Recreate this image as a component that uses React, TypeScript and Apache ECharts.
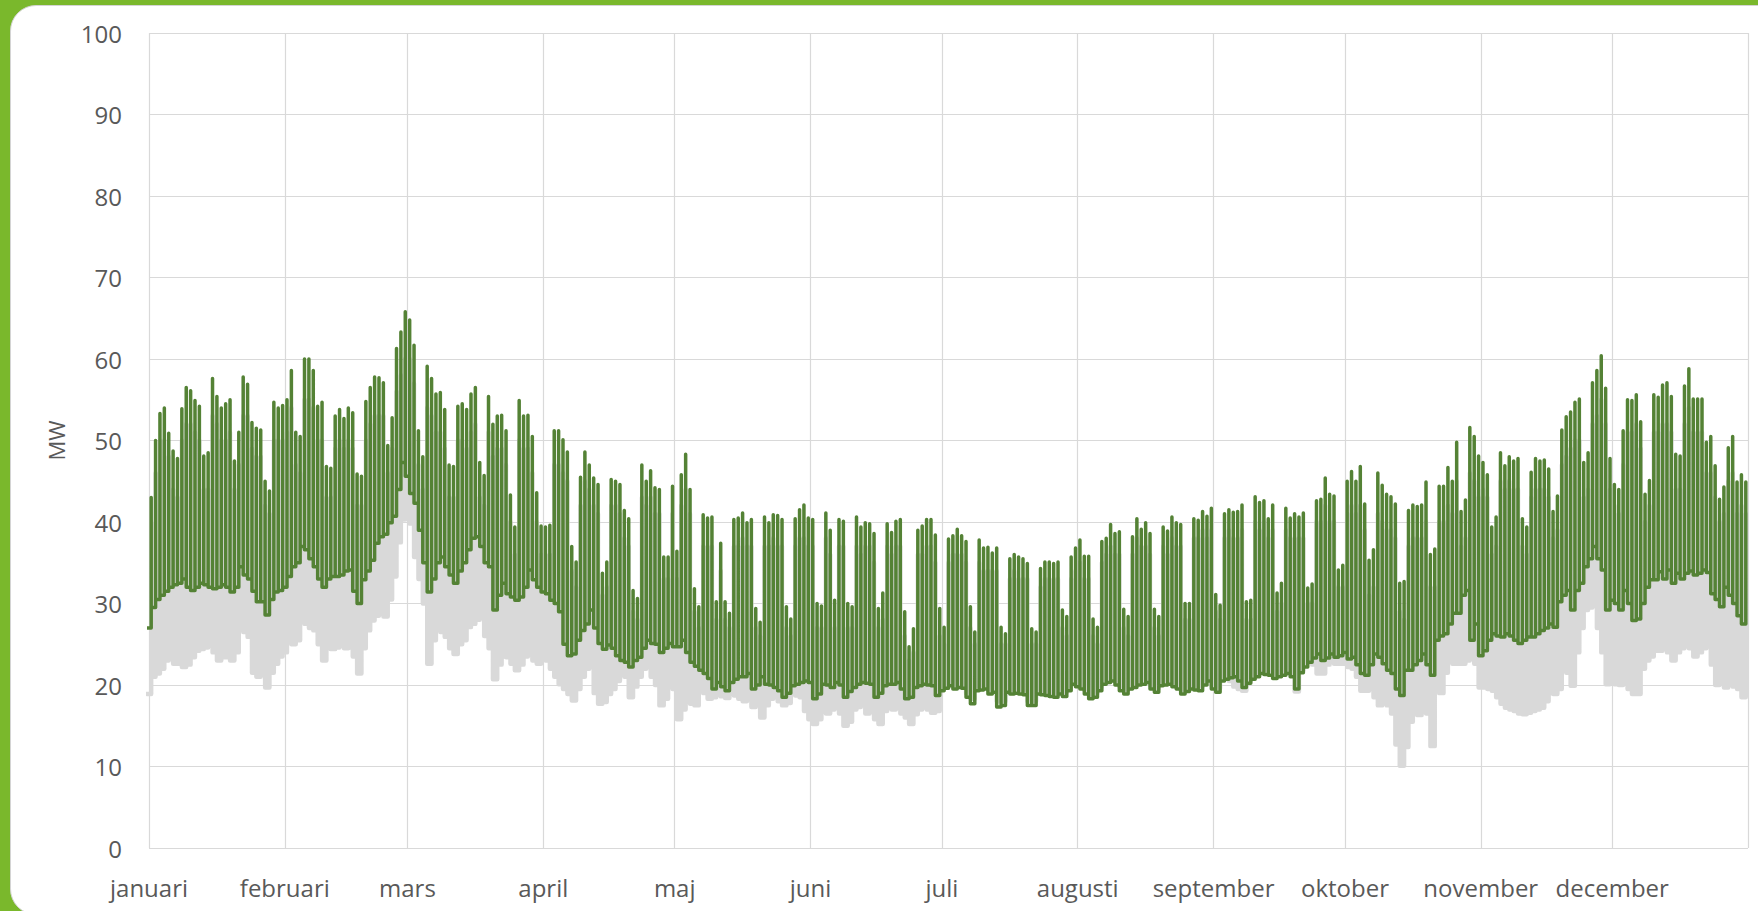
import React, { useEffect, useRef } from "react";
import * as echarts from "echarts";

const MONTHS = ["januari", "februari", "mars", "april", "maj", "juni", "juli", "augusti", "september", "oktober", "november", "december"];
const MONTH_START = [0, 31, 59, 90, 120, 151, 181, 212, 243, 273, 304, 334];
const YEAR_END = 365;
const Y_MIN = 0;
const Y_MAX = 100;
const Y_STEP = 10;

// daily peak of the green series (MW), Jan..Dec
const greenHigh = [
  43, 50, 53.3, 54, 50.9, 48.7, 47.8, 53.9, 56.5, 56.1, 54.9, 54.2, 48.1, 48.5, 57.6, 55.4, 54, 54.5, 55, 47.5, 51, 57.8, 56.9, 52.2, 51.5, 51.3, 45, 43.8, 54.7, 54, 54.3,
  55, 58.6, 51, 50.5, 60, 60, 58.6, 54.2, 54.7, 46.8, 46.6, 53, 53.8, 52.7, 54, 53.4, 45.9, 45.6, 54.8, 56.5, 57.8, 57.7, 57.1, 49.4, 52.8, 61.3, 63.3, 65.8,
  64.8, 61.7, 51.2, 48, 59.1, 57.6, 55.7, 55.9, 53.8, 47, 46.8, 54.2, 54.5, 53.8, 55.7, 56.5, 47.3, 45.7, 55.4, 52, 53, 53.1, 51.2, 43.3, 39.4, 54.9, 53, 53.1, 50.5, 43.6, 39.5,
  39.4, 39.6, 51.2, 51.2, 50.1, 48.6, 37, 35.1, 45.5, 48.6, 47, 45.4, 44.6, 33.7, 35.1, 45.2, 45, 44.6, 41.4, 40.4, 31.6, 30.6, 47, 45, 46.3, 44.2, 44, 35.7, 35.7, 44.4,
  36.4, 45.8, 48.3, 44, 31.8, 29.6, 40.9, 40.5, 40.6, 30.2, 37.4, 30.2, 28.8, 40.3, 40.5, 41.1, 39.9, 40.3, 29.4, 27.7, 40.6, 39.9, 40.9, 40.8, 40.3, 29.6, 28.1, 40.4, 41.5, 42.1, 40.5,
  40.3, 30, 29.7, 41.1, 39, 30.4, 40.3, 40.1, 30, 29.6, 40.6, 39.4, 39.9, 39.8, 38.6, 29.4, 31.3, 39.8, 38.7, 40.1, 40.3, 29, 24.7, 26.9, 39, 39.5, 40.3, 40.3, 38.4, 29.4,
  27.1, 37.9, 38.3, 39.1, 38.3, 37.6, 29.6, 26.5, 37.8, 36.8, 36.9, 36.2, 36.8, 27.1, 26.3, 35.5, 36, 35.7, 35.5, 34.9, 26.9, 26.5, 34.3, 35.1, 35.1, 34.9, 35.1, 29.2, 28.4, 35.7, 36.8,
  37.8, 35.8, 35.8, 28.1, 27.1, 37.6, 38, 39.7, 38.6, 38.8, 29.3, 28.4, 38.2, 40.4, 39.1, 39.9, 38.6, 29.3, 28.4, 39.4, 38.9, 40.6, 39.9, 39.7, 30, 30, 40.4, 40.2, 41.3, 40.7, 41.7,
  31.1, 29.8, 41, 41.5, 41.2, 41.3, 42.1, 30.2, 30.4, 43.1, 42.4, 42.6, 40.4, 42.1, 31.3, 32.5, 41.7, 40.5, 41, 40.6, 41.1, 31.9, 32.4, 42.6, 42.8, 45.4, 43.4, 43.2, 34.1, 34.7,
  45, 46.2, 45, 46.8, 42.2, 35.3, 36.6, 46, 44.5, 43.4, 43.1, 42.2, 32.5, 32.7, 41.4, 42.1, 41.9, 42.1, 44.9, 36, 36.7, 44.4, 44.4, 46.7, 45, 49.8, 41.3, 42.7, 51.6, 50.5, 48.1,
  47.3, 45.8, 39.4, 40.6, 48.5, 46.9, 48, 47.5, 47.8, 40.4, 39.4, 46.1, 47.8, 47.5, 47.6, 46.5, 41.3, 43.2, 51.3, 52.9, 53.5, 54.7, 55.1, 47.3, 48.5, 57.1, 58.6, 60.4, 56.4, 47.8,
  44.6, 44, 51.2, 55, 54.9, 55.6, 52.3, 43.4, 45.1, 55.6, 55.3, 56.8, 57.1, 55.4, 48.3, 48.1, 56.7, 58.8, 55.1, 55.1, 55.1, 49.8, 50.5, 46.9, 42.8, 44.3, 49.1, 50.5, 44.9, 45.8, 44.9,
];

// daily trough of the green series (MW)
const greenLow = [
  27, 29.5, 30.5, 31, 31.5, 32, 32.3, 32.5, 33, 32, 31.6, 32, 32.5, 32.3, 32, 31.8, 32, 32.3, 32, 31.4, 32, 34.5, 33.5, 33, 31.5, 30.2, 30.2, 28.6, 30.5, 31.4, 31.6,
  32, 33.3, 34.5, 35, 37, 36.6, 35.5, 34.5, 33, 32, 33, 33.3, 33.3, 33.5, 34, 34.1, 31.5, 30, 32.9, 34, 35.3, 37.4, 38.2, 38.5, 39.9, 40.7, 44, 47.3,
  45.6, 43.5, 42.3, 39, 35, 31.4, 33, 35, 35.7, 34.5, 33.5, 32.5, 34, 35, 36.6, 38, 38.2, 37, 35, 34.5, 29.2, 31, 32.5, 31.2, 30.8, 30.4, 30.8, 32, 34.1, 32.9, 32,
  31.4, 31.2, 30.4, 30, 29, 25, 23.6, 23.8, 25.5, 26.7, 27.5, 29.2, 27, 25.1, 24.4, 24.9, 24.5, 23.6, 23, 22.8, 22.2, 23, 23.4, 24.5, 25.5, 25.1, 25, 24, 24.5, 25.1,
  24.7, 24.7, 25.5, 24, 22.8, 22.3, 21.8, 21.4, 20.8, 19.5, 20.3, 19.8, 19.3, 20.3, 20.7, 21, 21, 21.4, 19.5, 20, 21, 20.1, 20, 19.7, 19.3, 18.5, 19, 19.9, 20.1, 20.3, 20.5,
  20.3, 18.3, 18.9, 20.1, 20, 19.7, 20.3, 20, 18.5, 19.2, 19.7, 20.1, 20.3, 20.2, 20.1, 18.5, 19, 19.9, 20.1, 20.1, 20.3, 19.5, 18.3, 18.5, 19.7, 19.9, 20.1, 20, 19.9, 18.7,
  19.3, 19.6, 19.9, 19.5, 19.7, 19.6, 18.5, 17.7, 19.3, 19.4, 19.5, 18.9, 19.1, 17.3, 17.5, 19.1, 18.9, 19, 18.9, 18.8, 17.5, 17.5, 18.9, 18.8, 18.7, 18.6, 18.5, 18.9, 18.6, 19.3, 20.1,
  19.8, 19.5, 18.9, 18.3, 18.5, 19.3, 20.1, 20.3, 20.5, 20, 19.3, 18.9, 19.5, 19.7, 20, 20.1, 20.3, 19.5, 19.1, 19.9, 20, 20.1, 19.8, 19.5, 18.9, 19.2, 19.5, 19.4, 19.3, 20, 20.5,
  19.5, 19.1, 20.5, 20.7, 20.9, 21, 20.5, 19.7, 20.2, 20.7, 21, 21.4, 21.3, 21.2, 20.8, 21, 21.2, 21.4, 21, 19.5, 21.5, 22.2, 22.8, 23.3, 23.8, 23, 23.3, 23.8, 23.4, 23.6,
  24, 23.2, 23.4, 22.5, 21.4, 21.2, 22.5, 23.8, 23.4, 22.6, 21.8, 21.4, 19.5, 18.7, 21.8, 21.8, 22.5, 23, 23.8, 22.5, 21.2, 25.5, 26, 26.3, 27.5, 28.8, 28.8, 31, 31.6, 25.5, 27.5,
  23.6, 24.2, 25.5, 26.3, 26, 25.9, 26.3, 26, 25.5, 25.1, 25.5, 25.9, 25.9, 26.3, 26.7, 27, 27.5, 27.1, 30.2, 31, 31.6, 29.2, 31.6, 32.5, 34.5, 35.5, 37, 35.5, 34.1, 29.2,
  30.4, 30, 29.2, 31.6, 30, 27.9, 28.1, 30, 32, 32.9, 32.9, 33.9, 33, 34.1, 32.5, 33.7, 33, 33.7, 34, 33.5, 33.7, 34.1, 33.8, 31.2, 30.5, 29.6, 32, 31, 30, 28.5, 27.5,
];

// daily peak of the grey series (MW)
const greyHigh = [
  40, 46, 50, 50, 48, 44, 43, 50, 52, 52, 51, 50, 44, 44, 53, 52, 50, 50, 51, 44, 47, 53, 53, 49, 48, 48, 42, 41, 50, 50, 50,
  51, 54, 47, 46, 55, 55, 54, 50, 50, 43, 43, 49, 50, 49, 50, 49, 42, 42, 50, 52, 53, 53, 53, 46, 49, 56, 58, 60,
  60, 57, 47, 44, 54, 53, 51, 51, 49, 43, 43, 50, 50, 49, 51, 52, 43, 42, 51, 48, 49, 49, 47, 40, 36, 50, 49, 49, 46, 40, 36,
  36, 36, 47, 47, 46, 45, 34, 32, 42, 45, 44, 42, 41, 31, 32, 42, 42, 41, 38, 37, 29, 28, 43, 42, 43, 41, 41, 33, 33, 41,
  33, 42, 44, 41, 29, 27, 37, 37, 37, 28, 34, 28, 27, 37, 37, 38, 37, 37, 27, 26, 37, 37, 38, 37, 37, 27, 26, 37, 38, 38, 37,
  37, 27, 27, 38, 36, 27, 37, 37, 27, 27, 37, 36, 37, 37, 35, 27, 28, 37, 36, 37, 37, 26, 23, 24, 36, 36, 37, 37, 35, 26,
  25, 35, 36, 36, 36, 35, 27, 25, 35, 34, 34, 34, 34, 25, 25, 33, 34, 33, 33, 33, 25, 25, 32, 33, 33, 33, 33, 27, 26, 33, 34,
  35, 33, 33, 26, 25, 35, 36, 37, 36, 36, 27, 26, 36, 38, 37, 37, 36, 27, 26, 37, 36, 38, 37, 37, 28, 28, 38, 38, 39, 38, 39,
  29, 28, 38, 39, 38, 38, 39, 28, 28, 40, 39, 40, 38, 39, 29, 30, 39, 38, 38, 38, 38, 30, 30, 40, 40, 42, 40, 40, 32, 32,
  41, 42, 41, 42, 39, 31, 32, 41, 40, 39, 39, 38, 29, 28, 37, 38, 38, 38, 40, 32, 32, 40, 40, 42, 41, 45, 37, 38, 46, 45, 43,
  44, 43, 36, 37, 45, 44, 45, 44, 44, 37, 36, 43, 44, 44, 44, 43, 38, 39, 47, 48, 49, 50, 50, 43, 44, 52, 53, 55, 52, 44,
  42, 41, 47, 51, 51, 52, 49, 40, 42, 51, 51, 52, 52, 51, 44, 44, 52, 54, 51, 51, 51, 46, 46, 43, 40, 41, 45, 46, 41, 42, 41,
];

// daily trough of the grey series (MW)
const greyLow = [
  18.9, 21, 21.4, 22, 23, 23.4, 22.6, 22.6, 22.2, 22.5, 23.4, 24.2, 24.4, 24.6, 25.9, 24, 23, 23.4, 23.4, 23, 24, 27.5, 26.5, 25.9, 21.5, 21, 21.4, 19.7, 21.5, 22.6, 23.5,
  24, 26.5, 25, 25.5, 28.4, 27.5, 27, 26.7, 25, 23, 24.5, 24.4, 24.6, 25.5, 24.5, 24.6, 23.5, 21.4, 24.5, 26.7, 27.9, 28.5, 29.2, 28.4, 30.5, 33.3, 37.5, 40.3,
  42.3, 39.8, 35.7, 33, 30, 22.6, 25.5, 27.5, 26.5, 25.9, 24.5, 23.8, 25, 25.5, 27.1, 27.5, 28, 28.8, 26, 24.5, 20.7, 22.5, 23.5, 23.4, 22.6, 21.8, 22.5, 23.5, 24, 23, 22.6,
  23.4, 23, 22, 21, 20.1, 19.5, 18.9, 18.1, 19.5, 21, 22, 23.4, 19, 17.7, 17.9, 18.9, 19.5, 20.5, 21.4, 21, 18.5, 19.8, 21, 22, 23.4, 21, 20, 17.5, 18.3, 20.1,
  19.5, 15.8, 17, 18.5, 17.7, 17.5, 19.7, 19, 18.3, 18.5, 19, 18.6, 18.4, 19.3, 18.7, 18.3, 18, 18.5, 17.3, 17.5, 16, 17.5, 18.3, 18.5, 18, 17.5, 17.8, 18.9, 18.7, 18.5, 16.8,
  15.8, 15.2, 15.8, 17, 16.5, 17, 17.3, 16.5, 15, 15.5, 17, 17.3, 17.6, 16.5, 17, 15.8, 15.2, 16.8, 17.3, 17, 17.3, 16.5, 16, 15.2, 16.4, 17, 17.3, 17, 16.6, 16.8,
  19.5, 20, 20.3, 20, 20.2, 20, 19, 18.3, 19.8, 19.9, 20, 19.4, 19.6, 18, 18, 19.6, 19.4, 19.5, 19.4, 19.3, 18, 18, 19.4, 19.3, 19.2, 19.1, 19, 19.4, 19.1, 19.8, 20.6,
  20.3, 20, 19.4, 18.8, 19, 19.8, 20.6, 20.8, 21, 20.5, 19.8, 19.4, 20, 20.2, 20.5, 20.6, 20.8, 20, 19.6, 20.4, 20.5, 20.6, 20.3, 20, 19.4, 19.7, 20, 19.9, 19.8, 20.5, 21,
  20, 19.6, 21, 21, 20.5, 19.8, 19.5, 19.3, 20.5, 21.2, 21.5, 21.9, 21.8, 21.7, 21.3, 21.5, 21.7, 21.9, 21.5, 19.2, 21.8, 22.7, 23.3, 22.5, 21.4, 21.4, 22.5, 23.3, 22.6, 22.6,
  22.6, 22.2, 22, 21, 19.3, 19.3, 19.5, 18.5, 17.5, 18.2, 17.5, 16.5, 12.7, 10.1, 12.4, 15.5, 16.5, 16.3, 17, 16.5, 12.5, 19.5, 19, 21.5, 23, 22.6, 22.6, 22.6, 23, 23.4, 22.6,
  19.7, 19.7, 19.5, 19.3, 18.5, 17.7, 17.2, 17, 16.8, 16.5, 16.4, 16.6, 16.8, 17, 17.2, 18, 19, 18.9, 19.5, 22, 21.5, 19.9, 24, 27, 29.2, 29.5, 30, 27, 24, 20.1,
  21, 20.1, 20, 20.5, 19.5, 18.9, 18.9, 22, 23, 23.5, 24.2, 24.2, 25, 24, 23, 24, 24.5, 25, 24.5, 23.5, 24, 24.5, 25, 22.5, 20, 21, 19.7, 22, 19.8, 19.5, 18.5,
];

// each day: night trough, then the daytime peak (drawn as a stepped line)
function dailyPoints(low: number[], high: number[]) {
  const pts: number[][] = [];
  for (let d = 0; d < low.length; d++) {
    pts.push([d - 0.5, low[d]]);
    pts.push([d + 0.5, high[d]]);
  }
  return pts;
}

const FONT = "'Open Sans', 'Noto Sans', sans-serif";
const TEXT = "#595959";
const GRID = "#d9d9d9";

export default function App() {
  const ref = useRef<HTMLDivElement>(null);

  useEffect(() => {
    if (!ref.current) return;
    const chart = echarts.init(ref.current, null, { renderer: "svg" });
    chart.setOption({
      animation: false,
      backgroundColor: "transparent",
      grid: { left: 149, right: 10, top: 33, bottom: 63, containLabel: false },
      xAxis: {
        type: "value",
        min: 0,
        max: YEAR_END,
        axisLine: { show: false },
        axisTick: { show: false, customValues: [...MONTH_START, YEAR_END] },
        axisLabel: {
          customValues: MONTH_START,
          formatter: (v: number) => {
            const i = MONTH_START.indexOf(Math.round(v));
            return i >= 0 ? MONTHS[i] : "";
          },
          color: TEXT,
          fontSize: 24,
          fontFamily: FONT,
          margin: 27,
        },
        splitLine: { show: true, lineStyle: { color: GRID, width: 1.2 } },
      },
      yAxis: {
        type: "value",
        min: Y_MIN,
        max: Y_MAX,
        interval: Y_STEP,
        name: "MW",
        nameLocation: "middle",
        nameGap: 82,
        nameRotate: 90,
        nameTextStyle: { color: TEXT, fontSize: 22, fontFamily: FONT },
        axisLine: { show: false },
        axisTick: { show: false },
        axisLabel: { color: TEXT, fontSize: 24, fontFamily: FONT, margin: 27 },
        splitLine: { show: true, lineStyle: { color: GRID, width: 1.2 } },
      },
      series: [
        {
          name: "Föregående år",
          type: "line",
          step: "end",
          data: dailyPoints(greyLow, greyHigh),
          symbol: "none",
          lineStyle: { color: "#d9d9d9", width: 4.4, join: "round", cap: "round" },
          z: 2,
        },
        {
          name: "Innevarande år",
          type: "line",
          step: "end",
          data: dailyPoints(greenLow, greenHigh),
          symbol: "none",
          lineStyle: { color: "#548235", width: 3.5, join: "round", cap: "round" },
          z: 3,
        },
      ],
    });
    return () => chart.dispose();
  }, []);

  return (
    <div style={{ position: "fixed", left: 0, top: 0, width: 1758, height: 911, background: "#7ab82c", overflow: "hidden" }}>
      <div
        style={{
          position: "absolute",
          left: 10,
          top: 5,
          width: 1790,
          height: 910,
          background: "#ffffff",
          borderRadius: 26,
          border: "1px solid #d4d4d4",
          boxSizing: "border-box",
        }}
      />
      <div ref={ref} style={{ position: "absolute", left: 0, top: 0, width: 1758, height: 911 }} />
    </div>
  );
}
